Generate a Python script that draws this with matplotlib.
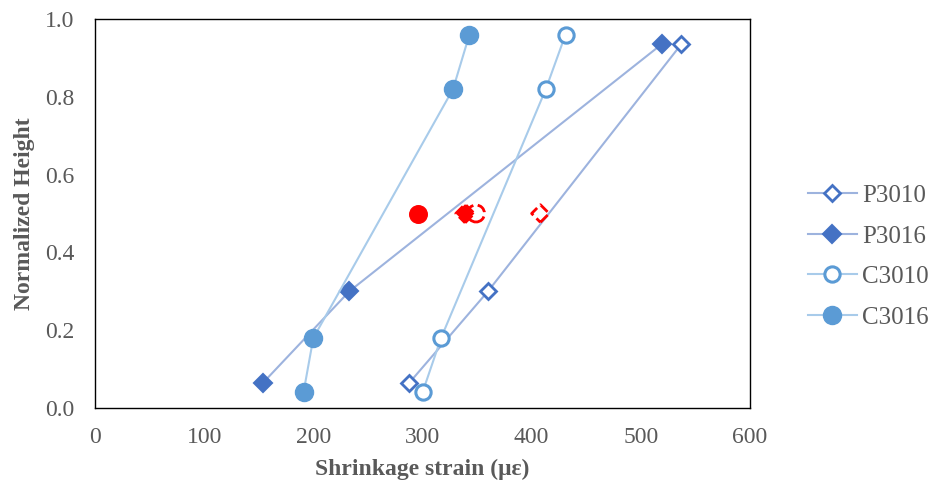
import matplotlib
matplotlib.use("Agg")
import matplotlib.pyplot as plt

plt.rcParams['font.family'] = ['Liberation Serif', 'DejaVu Serif']

# Shrinkage strain (microstrain) along normalized height
p3010_x = [288, 360, 537]
p3010_y = [0.065, 0.30, 0.935]
p3016_x = [154, 233, 519]
p3016_y = [0.065, 0.30, 0.935]
c3010_x = [300, 317, 413, 431]
c3010_y = [0.04, 0.18, 0.82, 0.96]
c3016_x = [191, 200, 328, 343]
c3016_y = [0.04, 0.18, 0.82, 0.96]

# Mid-height reference readings
mid_y = 0.5
mid_c3016_x = 296
mid_p3016_x = 339
mid_c3010_x = 349
mid_p3010_x = 408

x_ticks = [0, 100, 200, 300, 400, 500, 600]
y_ticks = [0.0, 0.2, 0.4, 0.6, 0.8, 1.0]

dark_blue = '#4472C4'
mid_blue = '#5B9BD5'
p_line = '#9DB3DE'
c_line = '#A8CBEA'
grey = '#595959'

fig = plt.figure(figsize=(9.34, 4.88), dpi=100)
ax = fig.add_axes([95 / 934, 80 / 488, 655 / 934, 389 / 488])

ax.plot(p3010_x, p3010_y, color=p_line, lw=1.5, marker='D', ms=8.5,
        mfc='white', mec=dark_blue, mew=2, label='P3010')
ax.plot(p3016_x, p3016_y, color=p_line, lw=1.5, marker='D', ms=9,
        mfc=dark_blue, mec=dark_blue, mew=1.5, label='P3016')
ax.plot(c3010_x, c3010_y, color=c_line, lw=1.5, marker='o', ms=11,
        mfc='white', mec=mid_blue, mew=2.2, label='C3010')
ax.plot(c3016_x, c3016_y, color=c_line, lw=1.5, marker='o', ms=13,
        mfc=mid_blue, mec=mid_blue, mew=1, label='C3016')

# red mid-height points with dashed outlines
ax.scatter([mid_c3016_x], [mid_y], s=160, marker='o', facecolor='red',
           edgecolor='red', linewidths=1.0, zorder=5)
ax.scatter([mid_p3016_x], [mid_y], s=90, marker='D', facecolor='red',
           edgecolor='red', linewidths=2, linestyles='--', zorder=5)
ax.scatter([mid_c3010_x], [mid_y], s=150, marker='o', facecolor='none',
           edgecolor='red', linewidths=2, linestyles='--', zorder=5)
ax.scatter([mid_p3010_x], [mid_y], s=80, marker='D', facecolor='none',
           edgecolor='red', linewidths=2, linestyles='--', zorder=5)

ax.set_xlim(0, 600)
ax.set_ylim(0, 1.0)
ax.set_xticks(x_ticks)
ax.set_yticks(y_ticks)
ax.set_xticklabels([str(v) for v in x_ticks])
ax.set_yticklabels([f'{v:.1f}' for v in y_ticks])
ax.tick_params(axis='both', length=0, labelsize=17, colors=grey)
ax.tick_params(axis='y', pad=15)
ax.tick_params(axis='x', pad=14)

for s in ax.spines.values():
    s.set_color('black')
    s.set_linewidth(1.0)

ax.set_xlabel('Shrinkage strain (με)', fontsize=17, fontweight='bold',
              color=grey, va='center', ha='center')
ax.xaxis.set_label_coords(0.5, -0.159)
ax.set_ylabel('Normalized Height', fontsize=17, fontweight='bold',
              color=grey, va='center', ha='center')
ax.yaxis.set_label_coords(-0.107, 0.5)

leg = fig.legend(loc='center left', bbox_to_anchor=(808 / 934, 0.474),
                 frameon=False, fontsize=18, labelspacing=0.72,
                 handlelength=1.95, handletextpad=0.2, borderaxespad=0,
                 borderpad=0)
for t in leg.get_texts():
    t.set_color(grey)

fig.savefig('out.png', dpi=100)
